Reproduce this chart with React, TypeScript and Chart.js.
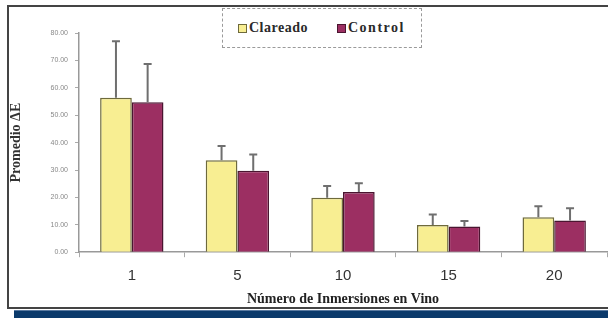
import React, { useEffect, useRef } from "react";
import { Chart, registerables } from "chart.js";

Chart.register(...registerables);

const categories = ["1", "5", "10", "15", "20"];
const clareado = [56.4, 33.6, 19.9, 9.9, 12.8];
const clareadoErr = [20.6, 5.2, 4.3, 3.9, 4.0];
const control = [54.7, 29.7, 22.0, 9.4, 11.6];
const controlErr = [14.0, 6.0, 3.2, 2.0, 4.4];
const yTicks = [0, 10, 20, 30, 40, 50, 60, 70, 80];

const errorsBySet = [clareadoErr, controlErr];

const errorBarPlugin = {
  id: "errorBars",
  afterDatasetsDraw(chart: any) {
    const ctx = chart.ctx;
    const yScale = chart.scales.y;
    ctx.save();
    ctx.strokeStyle = "#6f6f6f";
    ctx.lineWidth = 2;
    chart.data.datasets.forEach((ds: any, di: number) => {
      const meta = chart.getDatasetMeta(di);
      meta.data.forEach((bar: any, i: number) => {
        const v = ds.data[i];
        const e = errorsBySet[di][i];
        const x = bar.x;
        const y0 = yScale.getPixelForValue(v);
        const y1 = yScale.getPixelForValue(v + e);
        ctx.beginPath();
        ctx.moveTo(x, y0);
        ctx.lineTo(x, y1);
        ctx.moveTo(x - 4, y1);
        ctx.lineTo(x + 4, y1);
        ctx.stroke();
      });
    });
    ctx.restore();
  },
};

export default function App() {
  const ref = useRef<HTMLCanvasElement | null>(null);
  useEffect(() => {
    if (!ref.current) return;
    const chart = new Chart(ref.current, {
      type: "bar",
      data: {
        labels: categories,
        datasets: [
          {
            label: "Clareado",
            data: clareado,
            backgroundColor: "#F8EE92",
            borderColor: "#6e6a3c",
            borderWidth: 1.5,
            categoryPercentage: 0.6,
            barPercentage: 1.0,
          },
          {
            label: "Control",
            data: control,
            backgroundColor: "#9C2F62",
            borderColor: "#4a1530",
            borderWidth: 1.5,
            categoryPercentage: 0.6,
            barPercentage: 1.0,
          },
        ],
      },
      options: {
        responsive: false,
        animation: false,
        layout: { padding: { left: 8, right: 1, top: 33, bottom: 8 } },
        plugins: {
          legend: { display: false },
          tooltip: { enabled: false },
        },
        scales: {
          x: {
            grid: {
              offset: true,
              drawOnChartArea: false,
              tickLength: 5,
              color: "#aaaaaa",
            },
            border: { color: "#999999", width: 1.5 },
            ticks: {
              font: { family: "Arial, 'Liberation Sans', sans-serif", size: 15 },
              color: "#333333",
              padding: 10,
            },
            title: {
              display: true,
              text: "Número de Inmersiones en Vino",
              font: { family: "'Liberation Serif', 'Times New Roman', serif", size: 14, weight: "bold" },
              color: "#222222",
              padding: { top: -4, bottom: 2 },
            },
          },
          y: {
            min: 0,
            max: 80,
            afterBuildTicks(scale: any) {
              scale.ticks = yTicks.map((v) => ({ value: v }));
            },
            afterFit(scale: any) {
              scale.width = 71;
            },
            grid: { drawOnChartArea: false, tickLength: 4, color: "#aaaaaa" },
            border: { color: "#999999", width: 1.5 },
            ticks: {
              callback: (v: any) => Number(v).toFixed(2),
              font: { family: "Arial, 'Liberation Sans', sans-serif", size: 7 },
              color: "#888888",
              padding: 7,
            },
            title: {
              display: true,
              text: "Promedio ΔE",
              font: { family: "'Liberation Serif', 'Times New Roman', serif", size: 14, weight: "bold" },
              color: "#333333",
              padding: 0,
            },
          },
        },
      },
      plugins: [errorBarPlugin],
    });
    return () => chart.destroy();
  }, []);

  const serif = "'Liberation Serif', 'Times New Roman', serif";
  return (
    <div style={{ position: "fixed", left: 0, top: 0, width: 608, height: 318, background: "#ffffff", overflow: "hidden" }}>
      <div
        style={{
          position: "absolute",
          left: 7,
          top: 5,
          width: 610,
          height: 304,
          border: "2px solid #444444",
          boxSizing: "border-box",
        }}
      />
      <div style={{ position: "absolute", left: 14, top: 310, width: 600, height: 8, background: "#0b3a6b", borderTop: "1px solid #5a7aa0", boxSizing: "border-box" }} />
      <canvas ref={ref} width={608} height={318} style={{ position: "absolute", left: 0, top: 0 }} />
      <div
        style={{
          position: "absolute",
          left: 222,
          top: 8,
          width: 200,
          height: 40,
          border: "1px dashed #9a9a9a",
          boxSizing: "border-box",
          background: "#ffffff",
          fontFamily: serif,
          fontWeight: "bold",
          fontSize: 14,
          color: "#2a2a2a",
        }}
      >
        <span style={{ position: "absolute", left: 15, top: 11, display: "flex", alignItems: "center", letterSpacing: 0.5 }}>
          <span style={{ width: 7, height: 7, background: "#F8EE92", border: "1px solid #6e6a3c", marginRight: 2 }} />
          Clareado
        </span>
        <span style={{ position: "absolute", left: 114, top: 11, display: "flex", alignItems: "center", letterSpacing: 1.5 }}>
          <span style={{ width: 7, height: 7, background: "#9C2F62", border: "1px solid #4a1530", marginRight: 2 }} />
          Control
        </span>
      </div>
    </div>
  );
}
